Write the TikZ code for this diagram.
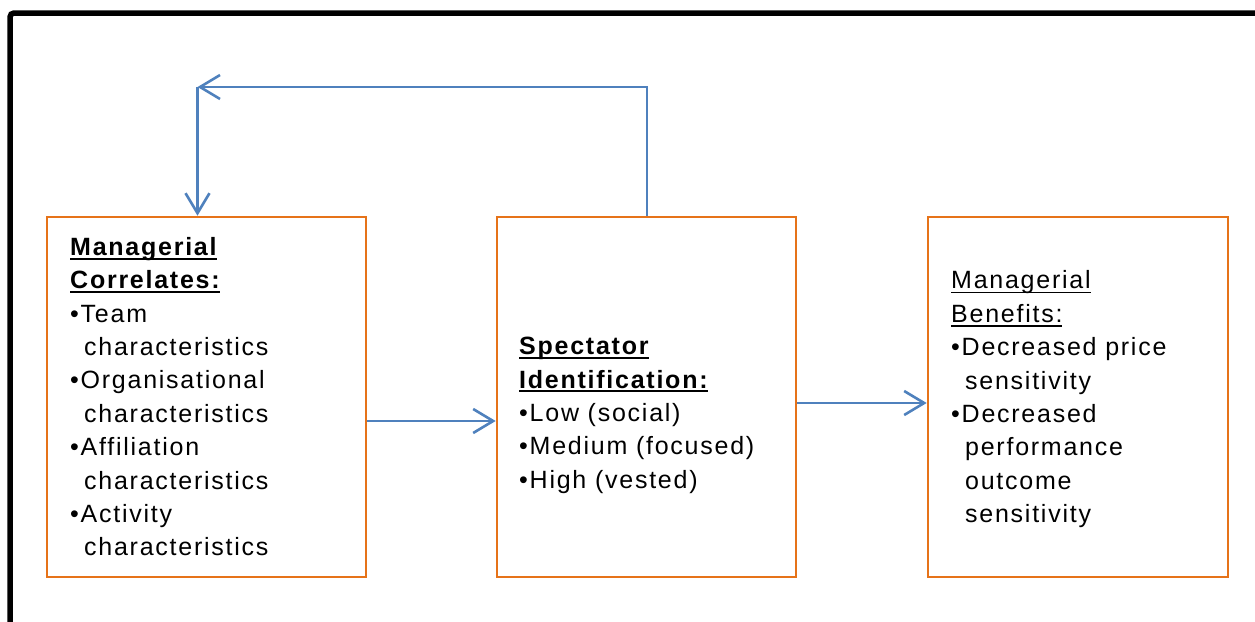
\documentclass[tikz,border=0pt]{standalone}
\usepackage{fontspec}
\setmainfont{Liberation Sans}[LetterSpace=7]
\usetikzlibrary{arrows.meta}
\definecolor{boxorange}{RGB}{230,115,25}
\definecolor{arrowblue}{RGB}{79,129,189}
\newcommand{\myind}{\hspace*{14pt}}
\newcommand{\myul}[2][2pt]{\setbox0\hbox{#2}\rlap{\rule[-4.3pt]{\wd0}{#1}}\box0}
\begin{document}
\begin{tikzpicture}[x=1pt,y=-1pt,
  box/.style={draw=boxorange,line width=2.6pt,minimum height=360pt,inner sep=0pt},
  txt/.style={anchor=north west,align=left,inner sep=0pt,font=\fontsize{25}{33.4}\selectfont},
  arr/.style={draw=arrowblue,line width=2.6pt,-{Straight Barb[length=20pt,width=24pt,line width=2.6pt]}}]
\useasboundingbox (0,0) rectangle (1255,621);
\clip (0,0) rectangle (1255,621);
% outer frame
\draw[line width=5.5pt,rounded corners=4pt] (10,13) rectangle (1300,680);
% boxes
\node[box,minimum width=319pt] (mc) at (206.5,397) {};
\node[box,minimum width=299pt] (si) at (646.5,397) {};
\node[box,minimum width=300pt] (mb) at (1078,397) {};
% texts
\node[txt] (mct) at (70,237) {\textbf{\myul{Managerial}}\\
  \textbf{\myul{Correlates:}}\\
  •Team\\
  \myind characteristics\\
  •Organisational\\
  \myind characteristics\\
  •Affiliation\\
  \myind characteristics\\
  •Activity\\
  \myind characteristics};
\node[txt] (sit) at (519,337) {\textbf{\myul{Spectator}}\\
  \textbf{\myul{Identification:}}\\
  •Low (social)\\
  •Medium (focused)\\
  •High (vested)};
\node[txt] (mbt) at (951,270.5) {\myul[1.6pt]{Managerial}\\
  \myul[1.6pt]{Benefits:}\\
  •Decreased price\\
  \myind sensitivity\\
  •Decreased\\
  \myind performance\\
  \myind outcome\\
  \myind sensitivity};
% connectors
\coordinate (fb) at (197.5,87);
\draw[arr] ([xshift=0.5pt]si.north) |- (fb);
\draw[arr] (fb) -- (fb |- mc.north);
\draw[arr] ([yshift=-24pt]mc.east) -- ([yshift=-24pt]si.west);
\draw[arr] ([yshift=-6pt]si.east) -- ([yshift=-6pt]mb.west);
\end{tikzpicture}
\end{document}
